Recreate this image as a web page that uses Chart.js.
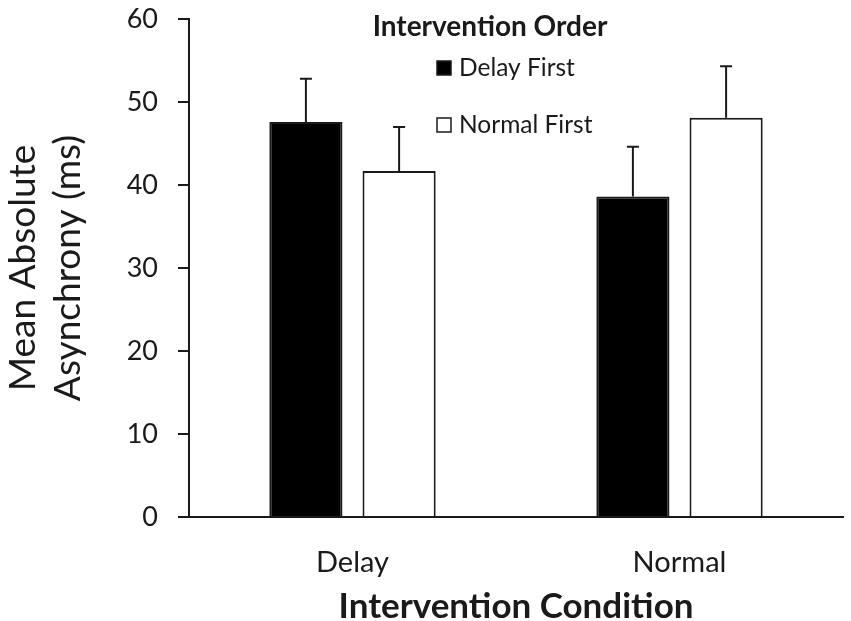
<!DOCTYPE html>
<html>
<head>
<meta charset="utf-8">
<script src="https://cdn.jsdelivr.net/npm/chart.js@4"></script>
<style>
  body { margin: 0; background: #fff; }
  #wrap { width: 851px; height: 621px; }
</style>
</head>
<body>
<div id="wrap"><canvas id="myChart" width="851" height="621"></canvas></div>
<script>
// ----------- Data ----------- //
const categories = ['Delay', 'Normal'];
const delayFirst = [47.6, 38.6];
const delayFirstErr = [5.2, 6.0];
const normalFirst = [41.7, 48.1];
const normalFirstErr = [5.3, 6.2];
const yTicks = [0, 10, 20, 30, 40, 50, 60];

const FONT = 'Lato, "Open Sans", sans-serif';
const INK = '#1a1a1a';

// error bars, upward only, with a small cap
const errorBars = {
    id: 'errorBars',
    afterDatasetsDraw(chart) {
        const ctx = chart.ctx;
        const y = chart.scales.y;
        chart.data.datasets.forEach((ds, i) => {
            const meta = chart.getDatasetMeta(i);
            meta.data.forEach((bar, j) => {
                const top = y.getPixelForValue(ds.data[j] + ds.errors[j]);
                ctx.save();
                ctx.strokeStyle = INK;
                ctx.lineWidth = 2;
                ctx.beginPath();
                ctx.moveTo(bar.x, bar.y);
                ctx.lineTo(bar.x, top);
                ctx.moveTo(bar.x - 6, top);
                ctx.lineTo(bar.x + 6, top);
                ctx.stroke();
                ctx.restore();
            });
        });
    }
};

// title + legend sit inside the plot area
const innerLegend = {
    id: 'innerLegend',
    afterDraw(chart) {
        const ctx = chart.ctx;
        const a = chart.chartArea;
        ctx.save();
        ctx.fillStyle = INK;
        ctx.textBaseline = 'middle';
        ctx.textAlign = 'center';
        ctx.font = 'bold 28px ' + FONT;
        ctx.fillText('Intervention Order', a.left + 301, 27);

        ctx.textAlign = 'left';
        ctx.font = '24.5px ' + FONT;
        chart.data.datasets.forEach((ds, i) => {
            const ly = 68 + i * 57;
            ctx.fillStyle = ds.backgroundColor;
            ctx.fillRect(a.left + 248, ly - 7, 14, 14);
            ctx.strokeStyle = INK;
            ctx.lineWidth = 1.5;
            ctx.strokeRect(a.left + 248, ly - 7, 14, 14);
            ctx.fillStyle = INK;
            ctx.fillText(ds.label, a.left + 270, ly);
        });
        ctx.restore();
    }
};

// ----------- Chart ----------- //
const ctx = document.getElementById('myChart');
const chart = new Chart(ctx, {
    type: 'bar',
    data: {
        labels: categories,
        datasets: [{
            label: 'Delay First',
            data: delayFirst,
            errors: delayFirstErr,
            backgroundColor: '#000000',
            borderColor: INK,
            borderWidth: 2,
        }, {
            label: 'Normal First',
            data: normalFirst,
            errors: normalFirstErr,
            backgroundColor: '#ffffff',
            borderColor: INK,
            borderWidth: 2,
        }]
    },
    options: {
        responsive: false,
        animation: false,
        categoryPercentage: 0.57,
        barPercentage: 0.785,
        layout: { padding: { top: 19, right: 8, left: 0, bottom: 0 } },
        plugins: {
            legend: { display: false },
            title: { display: false },
            tooltip: { enabled: false }
        },
        scales: {
            x: {
                grid: { display: false },
                border: { display: true, color: INK, width: 2 },
                ticks: { color: INK, font: { family: FONT, size: 29 }, padding: 20 },
                title: {
                    display: true,
                    text: 'Intervention Condition',
                    color: INK,
                    font: { family: FONT, size: 35, weight: 'bold', lineHeight: 0.8 },
                    padding: { top: 0, bottom: 0 }
                },
                afterFit: s => { s.height = 104; s.paddingLeft = 0; s.paddingRight = 0; }
            },
            y: {
                min: 0,
                max: 60,
                afterBuildTicks: s => { s.ticks = yTicks.map(v => ({ value: v })); },
                grid: { drawOnChartArea: false, drawTicks: true, tickLength: 11, color: INK, lineWidth: 2 },
                border: { display: true, color: INK, width: 2 },
                ticks: { color: INK, font: { family: FONT, size: 27 }, padding: 20 },
                title: {
                    display: true,
                    text: ['Mean Absolute', 'Asynchrony (ms)'],
                    color: INK,
                    font: { family: FONT, size: 37, lineHeight: 1.22 },
                    padding: { top: 0, bottom: 0 }
                },
                afterFit: s => { s.width = 189; s.paddingTop = 0; s.paddingBottom = 0; }
            }
        }
    },
    plugins: [errorBars, innerLegend]
});
</script>
</body>
</html>
